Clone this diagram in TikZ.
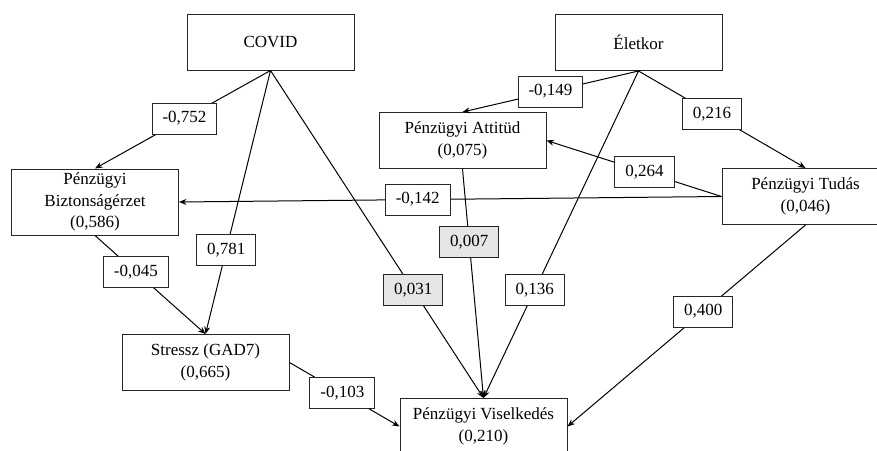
\documentclass[tikz,border=0pt]{standalone}
\usepackage{fontspec}
\setmainfont{LiberationSerif}[Extension=.ttf, UprightFont=*-Regular, BoldFont=*-Bold]
\usetikzlibrary{arrows.meta}

\begin{document}
\begin{tikzpicture}[x=1pt, y=-1pt, line width=1pt, >={Stealth[length=7.5pt,width=6pt]},
    main/.style = {draw=black!85, minimum width=167pt, minimum height=56pt, align=center, inner sep=2pt, font=\rmfamily\fontsize{17}{21.5}\selectfont},
    coef/.style = {draw=black!85, fill=white, minimum height=31pt, inner xsep=10.5pt, inner ysep=2pt, font=\rmfamily\fontsize{17}{21.5}\selectfont},
    nsig/.style = {coef, fill=black!10}]
        \useasboundingbox (0,0) rectangle (877,450);
        \clip (0,0) rectangle (877,450);
        \node[main] (covid) at (270.5,42) {COVID};
        \node[main] (eletkor) at (638.5,42.5) {Életkor};
        \node[main] (attitud) at (462.5,140.5) {Pénzügyi Attitüd\\(0,075)};
        \node[main, minimum height=66pt] (bizt) at (95,202) {Pénzügyi\\Biztonságérzet\\(0,586)};
        \node[main] (tudas) at (805.5,196.5) {Pénzügyi Tudás\\(0,046)};
        \node[main] (stressz) at (205.5,362.5) {Stressz (GAD7)\\(0,665)};
        \node[main] (visel) at (483.5,426.5) {Pénzügyi Viselkedés\\(0,210)};
        \draw[->] (covid.south) -- node[coef, pos=0.49] {-0,752} (bizt.north);
        \draw[->] (covid.south) -- node[coef, pos=0.68] {0,781} (stressz.north);
        \draw[->] (covid.south) -- node[nsig, pos=0.67] {0,031} (visel.north);
        \draw[->] (eletkor.south) -- node[coef, pos=0.5] {-0,149} (attitud.north);
        \draw[->] (eletkor.south) -- node[coef, pos=0.67] {0,136} (visel.north);
        \draw[->] (eletkor.south) -- node[coef, pos=0.44] {0,216} (tudas.north);
        \draw[->] (tudas.west) -- node[coef, pos=0.44] {0,264} (attitud.east);
        \draw[->] (tudas.west) -- node[coef, pos=0.56] {-0,142} (bizt.east);
        \draw[->] (tudas.south) -- node[coef, pos=0.43] {0,400} (visel.east);
        \draw[->] (attitud.south) -- node[nsig, pos=0.32] {0,007} (visel.north);
        \draw[->] (bizt.south) -- node[coef, pos=0.37] {-0,045} (stressz.north);
        \draw[->] (stressz.east) -- node[coef, pos=0.48] {-0,103} (visel.west);
\end{tikzpicture}
\end{document}
